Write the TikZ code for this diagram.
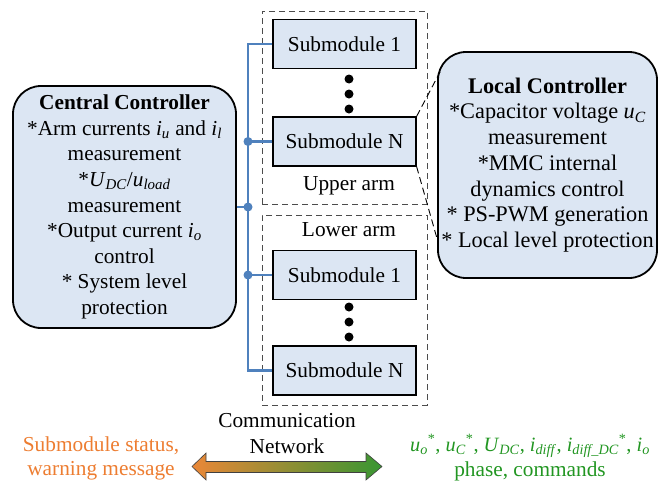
\documentclass[tikz,border=0pt]{standalone}
\usepackage{fontspec}
\setmainfont{Liberation Serif}
\usetikzlibrary{calc}
\definecolor{boxfill}{RGB}{220,230,243}
\definecolor{busblue}{RGB}{79,129,189}
\definecolor{orangetxt}{RGB}{237,125,49}
\definecolor{greentxt}{RGB}{34,150,34}
\definecolor{arrorange}{RGB}{234,135,55}
\definecolor{arrgreen}{RGB}{56,150,50}
\newcommand{\vsub}[2]{\textit{#1}\textsubscript{\textit{#2}}}
\begin{document}
\begin{tikzpicture}[x=1pt,y=-1pt, font=\fontsize{21.3}{25.6}\selectfont,
 ctrl/.style={draw=black, line width=1.8pt, fill=boxfill, rounded corners=28pt, align=center, inner sep=0pt},
 smbox/.style={draw=black, line width=1.2pt, fill=boxfill, minimum width=143pt, minimum height=49pt, inner sep=0pt},
 armbox/.style={draw=black!70, dash pattern=on 6pt off 4pt, line width=0.9pt, inner sep=0pt},
 bus/.style={draw=busblue, line width=2.8pt},
 junction/.style={circle, fill=busblue, minimum size=9pt, inner sep=0pt},
 blackdot/.style={circle, fill=black, minimum size=9pt, inner sep=0pt},
 zoomline/.style={draw=black, dash pattern=on 7pt off 4pt, line width=0.9pt},
 lbl/.style={inner sep=0pt, align=center}]
\useasboundingbox (0,0) rectangle (668,482);

% arm boxes
\node[armbox, minimum width=165pt, minimum height=193pt] (upper) at (344.5,107.5) {};
\node[armbox, minimum width=165pt, minimum height=190pt] (lower) at (344.5,310) {};

% submodules
\node[smbox] (u1) at (344.5,44) {Submodule 1};
\node[smbox] (uN) at (344.5,141.5) {Submodule N};
\node[smbox] (l1) at (344.5,275) {Submodule 1};
\node[smbox] (lN) at (344.5,370.5) {Submodule N};

% dots
\node[blackdot] (ud1) at (349,79) {};
\node[blackdot] (ud2) at (349,94) {};
\node[blackdot] (ud3) at (349,109) {};
\node[blackdot] (ld1) at (349,307) {};
\node[blackdot] (ld2) at (349,322) {};
\node[blackdot] (ld3) at (349,337) {};

\node[lbl] (uarm) at (349,186) {Upper arm};
\node[lbl] (larm) at (349,230) {Lower arm};

% controllers
\node[ctrl, minimum width=223pt, minimum height=242pt] (cc) at (124.5,207)
 {\textbf{Central Controller}\\{*}Arm currents \vsub{i}{u} and \vsub{i}{l}\\measurement\\{*}\vsub{U}{DC}/\vsub{u}{load}\\measurement\\{*}Output current \vsub{i}{o}\\control\\{*} System level\\protection};
\node[ctrl, minimum width=219pt, minimum height=226pt, font=\fontsize{22.3}{25.7}\selectfont] (lc) at (547.5,165)
 {\textbf{Local Controller}\\{*}Capacitor voltage \vsub{u}{C}\\measurement\\{*}MMC internal\\dynamics control\\{*} PS-PWM generation\\{*} Local level protection};

% bus
\coordinate (btop) at (248,44);
\coordinate (bbot) at (248,370.5);
\node[junction] (j1) at (248,141.5) {};
\node[junction] (j2) at (248,207) {};
\node[junction] (j3) at (248,275) {};
\draw[bus] (u1.west) -- (btop) -- (bbot) -- (lN.west);
\draw[bus] (uN.west) -- (j1.center);
\draw[bus] (l1.west) -- (j3.center);
\draw[bus] (cc.east |- j2) -- (j2.center);

% zoom lines
\coordinate (lcA) at (440,72);
\coordinate (lcB) at (438,242);
\draw[zoomline] (uN.north east) -- (lcA);
\draw[zoomline] (uN.south east) -- (lcB);

% bottom
\node[lbl] (comm) at (287,421) {Communication};
\node[lbl] (net) at (287,446) {Network};
\node[lbl, text=orangetxt] (st1) at (101,446) {Submodule status,};
\node[lbl, text=orangetxt] (st2) at (101,471) {warning message};
\node[lbl, text=greentxt, font=\fontsize{20.3}{25.6}\selectfont] (cm1) at (530,446) {\vsub{u}{o}\textsuperscript{*}, \vsub{u}{C}\textsuperscript{*}, \vsub{U}{DC}, \vsub{i}{diff}, \vsub{i}{diff\_DC}\textsuperscript{*}, \vsub{i}{o}};
\node[lbl, text=greentxt] (cm2) at (530,471) {phase, commands};

\shade[left color=arrorange, right color=arrgreen, draw=black!75, line width=0.6pt]
 (192,466.5) -- (206,453) -- (206,461.5) -- (366,461.5) -- (366,453) -- (382,466.5)
 -- (366,480) -- (366,472.5) -- (206,472.5) -- (206,480) -- cycle;
\end{tikzpicture}
\end{document}
